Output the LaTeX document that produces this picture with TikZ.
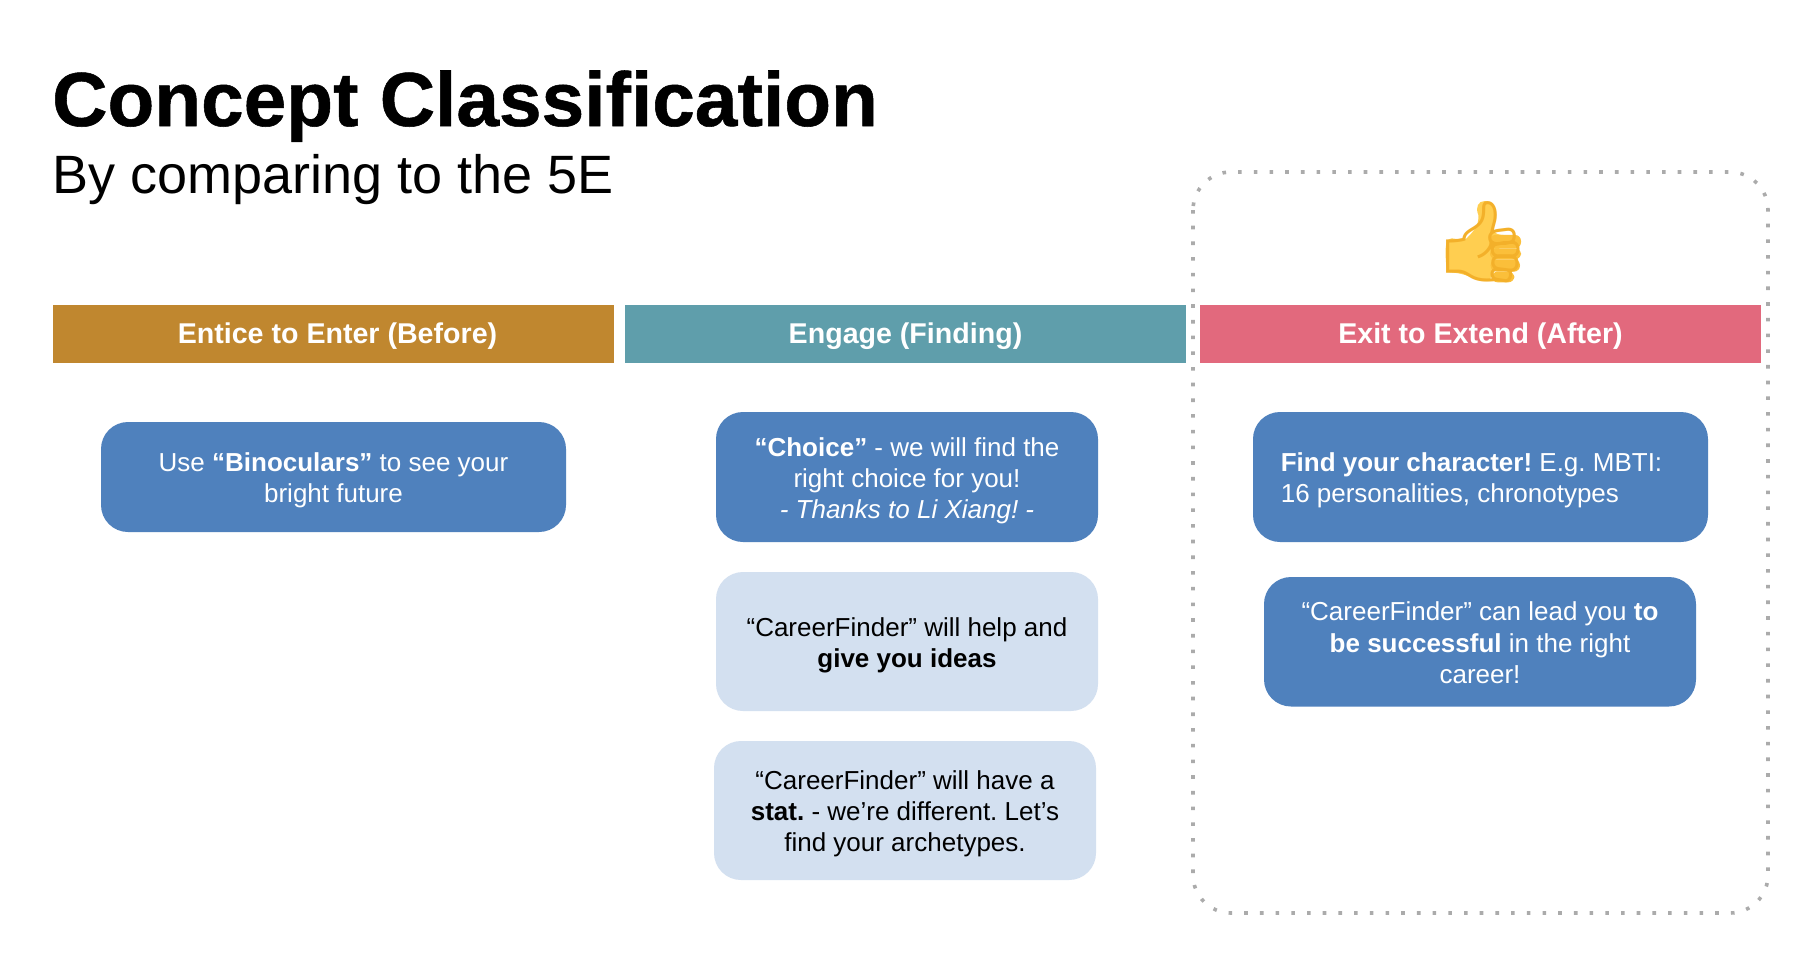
\documentclass[tikz,border=0pt]{standalone}
\usepackage{fontspec}
\setmainfont{Liberation Sans}
\newfontfamily\emojifont{Noto Emoji}
\newfontfamily\titlefont[FakeBold=0.7]{Liberation Sans Bold}
\frenchspacing
\definecolor{hdgold}{HTML}{C0872F}
\definecolor{hdteal}{HTML}{5F9EAB}
\definecolor{hdred}{HTML}{E2697D}
\definecolor{boxblue}{HTML}{4F81BD}
\definecolor{boxlight}{HTML}{D3E0F0}
\definecolor{dotgray}{HTML}{ABABAB}
\definecolor{thumbY}{HTML}{FFCE50}
\definecolor{thumbF}{HTML}{FBBF3A}
\definecolor{thumbO}{HTML}{F3B02A}
\tikzset{
  x=1pt,y=-1pt,
  hdr/.style={draw=none,inner sep=0pt,font=\fontsize{28.6}{32}\selectfont\bfseries,text=white},
  card/.style={rounded corners=27pt,inner sep=0pt,align=center,font=\fontsize{26}{31.2}\selectfont},
  darkcard/.style={card,fill=boxblue,text=white},
  lightcard/.style={card,fill=boxlight,text=black},
  finger/.style={fill=thumbF,rounded corners=6pt},
}
\newcommand{\rectnode}[8][3.5]{% dy, name, style, x0,y0,x1,y1, text
  \path[#3] (#4,#5) rectangle (#6,#7);
  \node[#3,fill=none] (#2) at ({(#4+#6)/2},{(#5+#7)/2+#1}) {#8};
}
\begin{document}
\begin{tikzpicture}
\useasboundingbox[fill=white] (0,0) rectangle (1812,964);
\node[anchor=base west,inner sep=0pt,font=\fontsize{76.6}{80}\selectfont\titlefont] (title) at (52,126) {Concept Classification};
\node[anchor=base west,inner sep=0pt,font=\fontsize{54}{60}\selectfont] (sub) at (52,193) {By comparing to the 5E};
\draw[dotgray,line width=3.6pt,dash pattern=on 3.6pt off 12.1pt,rounded corners=38pt] (1193,172) rectangle (1768,913);
\rectnode[2.5]{h1}{hdr,fill=hdgold}{53}{304.5}{614}{362.5}{\kern8pt Entice to Enter (Before)}
\rectnode[2.5]{h2}{hdr,fill=hdteal}{625}{304.5}{1186}{362.5}{Engage (Finding)}
\rectnode[2.5]{h3}{hdr,fill=hdred}{1200}{304.5}{1761}{362.5}{Exit to Extend (After)}
\rectnode[3.5]{c1}{darkcard}{101}{422}{566}{532}{Use \textbf{“Binoculars”} to see your\\bright future}
\rectnode{c2}{darkcard}{716}{412}{1098}{542}{\textbf{“Choice”} - we will find the\\right choice for you!\\\textit{- Thanks to Li Xiang! -}}
\rectnode{c3}{lightcard}{716}{572}{1098}{711}{“CareerFinder” will help and\\\textbf{give you ideas}}
\rectnode{c4}{lightcard}{714}{741}{1096}{880}{“CareerFinder” will have a\\\textbf{stat.} - we’re different. Let’s\\find your archetypes.}
\rectnode[4]{c5}{darkcard}{1253}{412}{1708}{542}{\begin{tabular}{@{}l@{}}\textbf{Find your character!} E.g. MBTI:\\16 personalities, chronotypes\end{tabular}\kern18pt}
\rectnode[1]{c6}{darkcard}{1264}{577}{1696}{706.5}{“CareerFinder” can lead you \textbf{to}\\\textbf{be successful} in the right\\career!}
\begin{scope}[shift={(1430,190)},x=0.3333pt,y=-0.3333pt]
  \fill[thumbY] (47,200) .. controls (45,165) and (50,145) .. (65,145) .. controls (85,148) and (100,150) .. (110,145) .. controls (130,125) and (148,105) .. (145,75) .. controls (135,50) and (145,33) .. (165,33) .. controls (185,35) and (197,60) .. (192,90) .. controls (190,105) and (187,115) .. (190,122) .. controls (195,130) and (205,135) .. (220,135) -- (180,270) .. controls (150,270) and (125,262) .. (105,255) .. controls (90,250) and (75,248) .. (60,247) .. controls (50,245) and (48,225) .. (47,200) -- cycle;
  \path[finger] (177,135) rectangle (273,175);
  \path[finger] (180,175) rectangle (273,208);
  \path[finger] (182,208) rectangle (270,245);
  \path[finger] (185,245) rectangle (253,277);
\end{scope}
\node[inner sep=0pt,text=thumbO,font=\fontsize{80}{80}\selectfont\emojifont] (thumb) at (1483,242) {👍};
\end{tikzpicture}
\end{document}
